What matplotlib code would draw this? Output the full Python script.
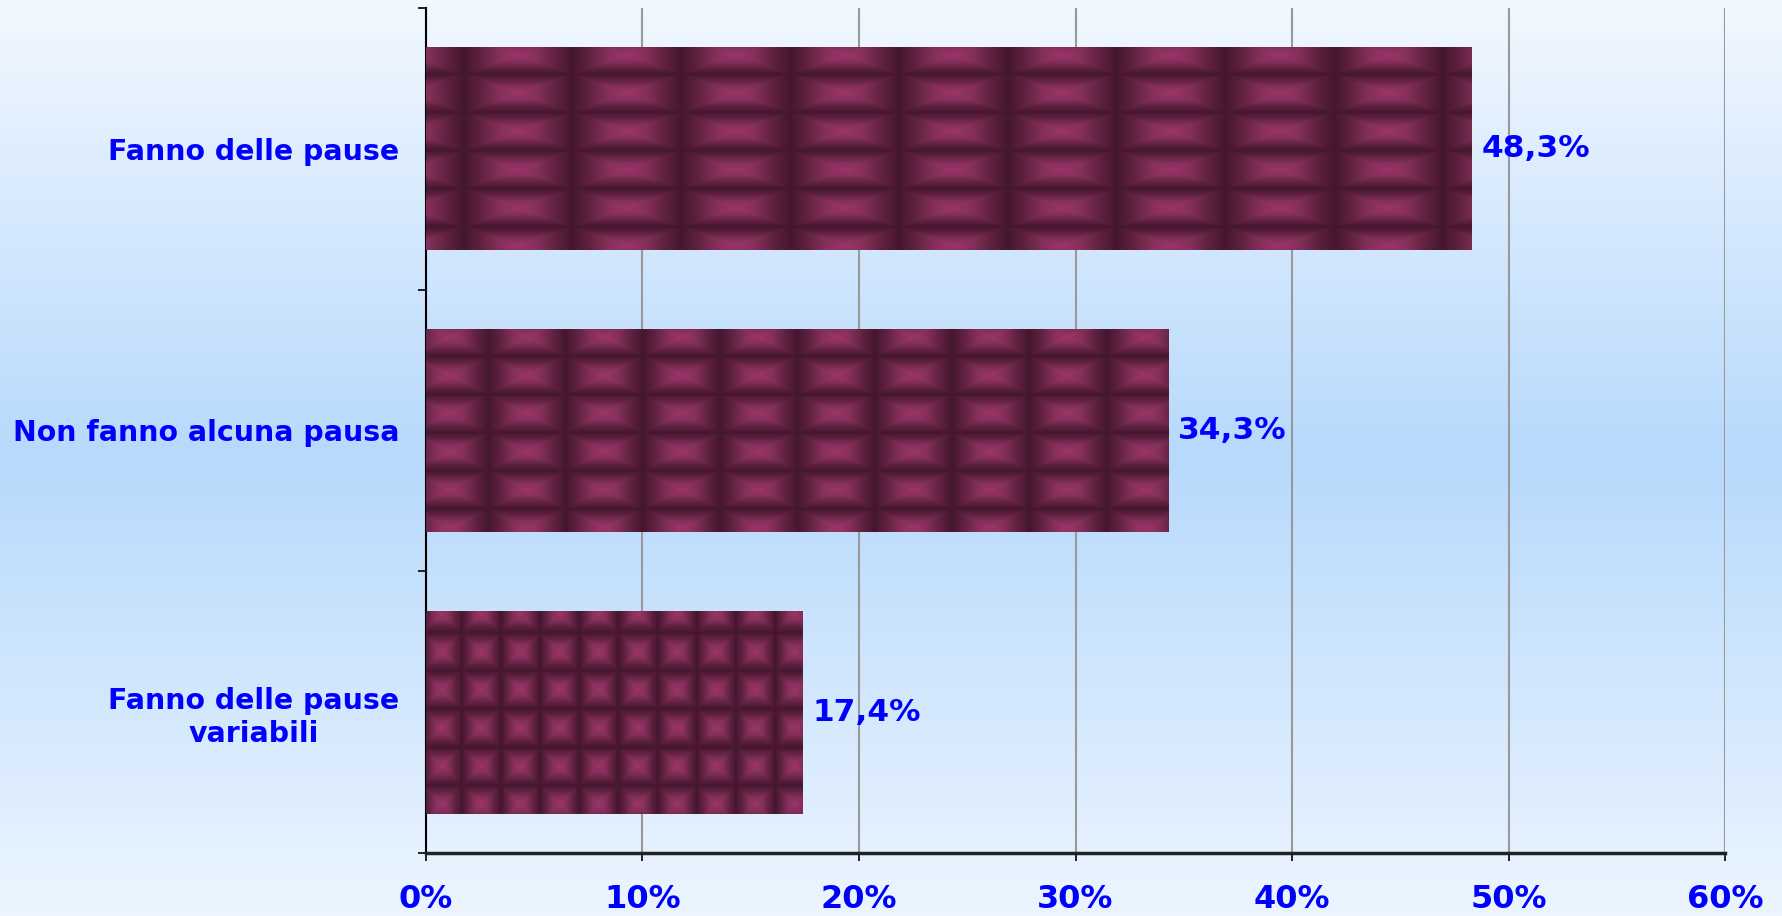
import numpy as np
import matplotlib
matplotlib.use("Agg")
import matplotlib.pyplot as plt
from matplotlib.colors import LinearSegmentedColormap
from matplotlib.ticker import FixedLocator, PercentFormatter

# data
categories = ["Fanno delle pause", "Non fanno alcuna pausa", "Fanno delle pause\nvariabili"]
values = [48.3, 34.3, 17.4]
value_labels = ["48,3%", "34,3%", "17,4%"]
xticks = [0, 10, 20, 30, 40, 50, 60]

BLUE = "#0000ff"
BAR_H = 0.72

fig = plt.figure(figsize=(17.83, 9.16), dpi=100)

# background gradient (light -> light blue -> light)
bg = fig.add_axes([0, 0, 1, 1], zorder=-1)
bg_cmap = LinearSegmentedColormap.from_list(
    "bg", [(0.0, "#f2f8ff"), (0.5, "#b7d9fc"), (1.0, "#ecf5ff")])
bg.imshow(np.linspace(0, 1, 256).reshape(-1, 1), aspect="auto", cmap=bg_cmap,
          extent=(0, 1, 0, 1), origin="upper")
bg.axis("off")

ax = fig.add_axes([0.2389, 0.0688, 0.7286, 0.9225])
ax.patch.set_alpha(0)

# pillow-like texture for the bars
tex_cmap = LinearSegmentedColormap.from_list(
    "tex", [(0.0, "#44162e"), (0.35, "#5e213f"), (0.7, "#85305b"), (1.0, "#9c3568")])


def texture(nx, ny, ox, oy, res=60):
    u = (np.linspace(0, nx, int(nx * res)) + ox) % 1.0
    v = (np.linspace(0, ny, int(ny * res)) + oy) % 1.0
    U, V = np.meshgrid(u, v)
    d = 2 * np.maximum(np.abs(U - 0.5), np.abs(V - 0.5))
    return np.clip(1 - d, 0, 1) ** 0.85


ys = np.arange(len(categories))
bars = ax.barh(ys, values, height=BAR_H, color="none", edgecolor="none", zorder=3)
offsets = [(0.66, 0.3), (0.2, 0.3), (0.1, 0.45)]
for bar, (ox, oy) in zip(bars, offsets):
    x0, y0 = bar.get_x(), bar.get_y()
    w, h = bar.get_width(), bar.get_height()
    im = ax.imshow(texture(9.6, 5.3, ox, oy), cmap=tex_cmap, aspect="auto",
                   extent=(x0, x0 + w, y0 + h, y0), zorder=3, interpolation="bilinear")
    im.set_clip_path(bar)

for y, v, lab in zip(ys, values, value_labels):
    ax.text(v + 0.45, y, lab, color=BLUE, fontsize=22.5, fontweight="bold",
            va="center", ha="left", zorder=4)

ax.set_xlim(0, 60)
ax.set_ylim(len(categories) - 0.5, -0.5)
ax.set_xticks(xticks)
ax.xaxis.set_major_formatter(PercentFormatter(decimals=0))
ax.set_yticks(ys)
ax.set_yticklabels(categories, multialignment="center")
ax.yaxis.set_minor_locator(FixedLocator(np.arange(-0.5, len(categories), 1.0)))

ax.grid(axis="x", color="#999999", linewidth=1.5, zorder=1)
ax.set_axisbelow(True)

for s in ["top", "right"]:
    ax.spines[s].set_visible(False)
ax.spines["left"].set_color("black")
ax.spines["left"].set_linewidth(1.5)
ax.spines["bottom"].set_color("#222222")
ax.spines["bottom"].set_linewidth(2.5)

ax.tick_params(axis="x", direction="out", length=6, width=1.2, color="black",
               labelsize=23, labelcolor=BLUE, pad=16)
ax.tick_params(axis="y", which="major", length=0, labelsize=20.4, labelcolor=BLUE, pad=19)
ax.tick_params(axis="y", which="minor", direction="out", length=6, width=1.2, color="black")
for t in ax.get_xticklabels() + ax.get_yticklabels():
    t.set_fontweight("bold")

fig.savefig("out.png", dpi=100)
